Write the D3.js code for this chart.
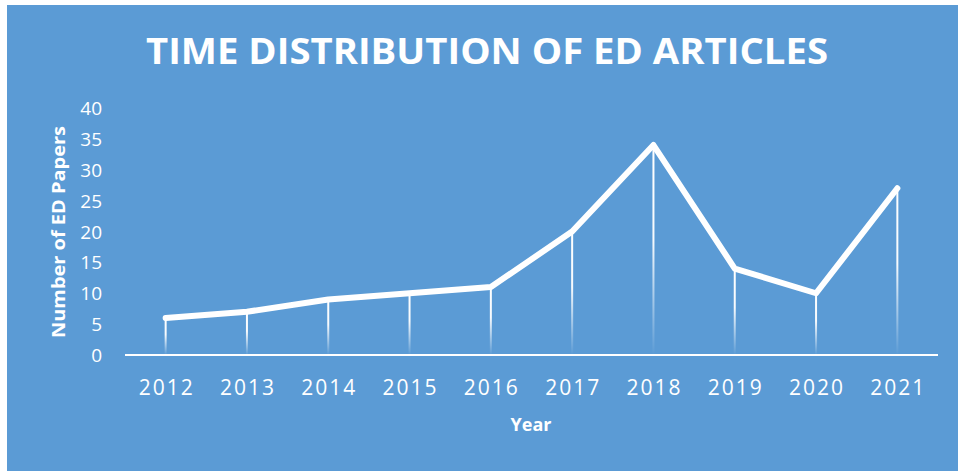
<!DOCTYPE html>
<html>
<head>
<meta charset="utf-8">
<script src="https://cdn.jsdelivr.net/npm/d3@7"></script>
<style>
  body { margin: 0; background: #fff; }
  svg { display: block; font-family: "Open Sans", "Noto Sans", sans-serif; }
</style>
</head>
<body>
<svg id="chart" width="958" height="471"></svg>
<script>
'use strict';

const YEARS = ["2012", "2013", "2014", "2015", "2016", "2017", "2018", "2019", "2020", "2021"];
const PAPERS = [6, 7, 9, 10, 11, 20, 34, 14, 10, 27];
const Y_TICKS = [0, 5, 10, 15, 20, 25, 30, 35, 40];

const BG = "#5b9bd5";
const svg = d3.select("#chart");

// background panel
svg.append("rect")
    .attr("x", 7).attr("y", 5)
    .attr("width", 951).attr("height", 466)
    .attr("fill", BG);

const x = d3.scaleBand().domain(YEARS).range([125, 938]);
const y = d3.scaleLinear().domain([0, 40]).range([355, 108]);

// gradient for the drop lines
const grad = svg.append("defs").append("linearGradient")
    .attr("id", "drop").attr("x1", 0).attr("y1", 0).attr("x2", 0).attr("y2", 1);
grad.append("stop").attr("offset", "0%").attr("stop-color", "#fff").attr("stop-opacity", 1);
grad.append("stop").attr("offset", "45%").attr("stop-color", "#fff").attr("stop-opacity", 0.95);
grad.append("stop").attr("offset", "100%").attr("stop-color", "#fff").attr("stop-opacity", 0);

// title
svg.append("text")
    .attr("x", 487).attr("y", 64)
    .attr("text-anchor", "middle")
    .attr("font-size", 35).attr("font-weight", "bold")
    .attr("fill", "#fff")
    .attr("textLength", 682).attr("lengthAdjust", "spacingAndGlyphs")
    .text("TIME DISTRIBUTION OF ED ARTICLES");

// y axis labels
svg.append("g").selectAll("text")
    .data(Y_TICKS)
    .join("text")
    .attr("x", 102).attr("y", d => y(d) + 7)
    .attr("text-anchor", "end")
    .attr("font-size", 19)
    .attr("fill", "#fff")
    .text(d => d);

svg.append("text")
    .attr("transform", "translate(65,232) rotate(-90)")
    .attr("text-anchor", "middle")
    .attr("font-size", 18).attr("font-weight", "bold")
    .attr("fill", "#fff")
    .attr("textLength", 212).attr("lengthAdjust", "spacingAndGlyphs")
    .text("Number of ED Papers");

// drop lines
const cx = d => x(d) + x.bandwidth() / 2;
svg.append("g").selectAll("rect")
    .data(YEARS)
    .join("rect")
    .attr("x", d => cx(d) - 1)
    .attr("y", (d, i) => y(PAPERS[i]))
    .attr("width", 2)
    .attr("height", (d, i) => y(0) - y(PAPERS[i]))
    .attr("fill", "url(#drop)");

// x axis
svg.append("line")
    .attr("x1", 125).attr("x2", 938)
    .attr("y1", y(0)).attr("y2", y(0))
    .attr("stroke", "#fff").attr("stroke-width", 2);

svg.append("g").selectAll("text")
    .data(YEARS)
    .join("text")
    .attr("x", d => cx(d)).attr("y", 395)
    .attr("text-anchor", "middle")
    .attr("font-size", 21)
    .attr("fill", "#fff")
    .attr("textLength", 54).attr("lengthAdjust", "spacing")
    .text(d => d);

svg.append("text")
    .attr("x", 531).attr("y", 431)
    .attr("text-anchor", "middle")
    .attr("font-size", 18).attr("font-weight", "bold")
    .attr("fill", "#fff")
    .text("Year");

// main line
const line = d3.line()
    .x((d, i) => cx(YEARS[i]))
    .y(d => y(d));

svg.append("path")
    .datum(PAPERS)
    .attr("d", line)
    .attr("fill", "none")
    .attr("stroke", "#fff")
    .attr("stroke-width", 6)
    .attr("stroke-linejoin", "round")
    .attr("stroke-linecap", "round");
</script>
</body>
</html>
